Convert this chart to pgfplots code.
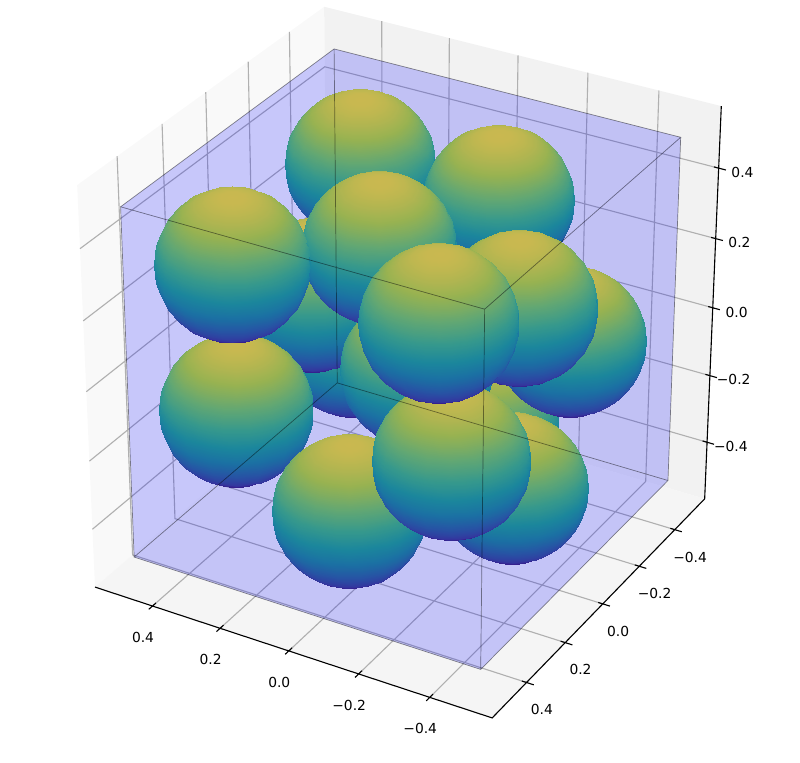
\documentclass[border=0pt]{standalone}
\usepackage{fontspec}
\setmainfont{DejaVu Sans}
\usepackage{pgfplots}
\usepackage{pgfplotstable}
\pgfplotsset{compat=1.18}

% unit sphere, 10 degree grid, latitude bands from the bottom up (painted in this order)
\pgfplotstableread[row sep=crcr]{
x y z\\
0 0 -1\\0 0 -1\\0 0 -1\\0 0 -1\\0 0 -1\\0 0 -1\\0 0 -1\\0 0 -1\\0 0 -1\\0 0 -1\\0 0 -1\\0 0 -1\\0 0 -1\\0 0 -1\\0 0 -1\\0 0 -1\\0 0 -1\\0 0 -1\\0 0 -1\\0 0 -1\\0 0 -1\\0 0 -1\\0 0 -1\\0 0 -1\\0 0 -1\\0 0 -1\\0 0 -1\\0 0 -1\\0 0 -1\\0 0 -1\\0 0 -1\\0 0 -1\\0 0 -1\\0 0 -1\\0 0 -1\\0 0 -1\\0 0 -1\\
.174 0 -.985\\.171 .03 -.985\\.163 .059 -.985\\.151 .087 -.985\\.133 .112 -.985\\.112 .133 -.985\\.087 .151 -.985\\.059 .163 -.985\\.03 .171 -.985\\0 .174 -.985\\-.03 .171 -.985\\-.059 .163 -.985\\-.087 .151 -.985\\-.112 .133 -.985\\-.133 .112 -.985\\-.151 .087 -.985\\-.163 .059 -.985\\-.171 .03 -.985\\-.174 0 -.985\\-.171 -.03 -.985\\-.163 -.059 -.985\\-.151 -.087 -.985\\-.133 -.112 -.985\\-.112 -.133 -.985\\-.087 -.151 -.985\\-.059 -.163 -.985\\-.03 -.171 -.985\\0 -.174 -.985\\.03 -.171 -.985\\.059 -.163 -.985\\.087 -.151 -.985\\.112 -.133 -.985\\.133 -.112 -.985\\.151 -.087 -.985\\.163 -.059 -.985\\.171 -.03 -.985\\.174 0 -.985\\
.342 0 -.94\\.337 .059 -.94\\.321 .117 -.94\\.296 .171 -.94\\.262 .22 -.94\\.22 .262 -.94\\.171 .296 -.94\\.117 .321 -.94\\.059 .337 -.94\\0 .342 -.94\\-.059 .337 -.94\\-.117 .321 -.94\\-.171 .296 -.94\\-.22 .262 -.94\\-.262 .22 -.94\\-.296 .171 -.94\\-.321 .117 -.94\\-.337 .059 -.94\\-.342 0 -.94\\-.337 -.059 -.94\\-.321 -.117 -.94\\-.296 -.171 -.94\\-.262 -.22 -.94\\-.22 -.262 -.94\\-.171 -.296 -.94\\-.117 -.321 -.94\\-.059 -.337 -.94\\0 -.342 -.94\\.059 -.337 -.94\\.117 -.321 -.94\\.171 -.296 -.94\\.22 -.262 -.94\\.262 -.22 -.94\\.296 -.171 -.94\\.321 -.117 -.94\\.337 -.059 -.94\\.342 0 -.94\\
.5 0 -.866\\.492 .087 -.866\\.47 .171 -.866\\.433 .25 -.866\\.383 .321 -.866\\.321 .383 -.866\\.25 .433 -.866\\.171 .47 -.866\\.087 .492 -.866\\0 .5 -.866\\-.087 .492 -.866\\-.171 .47 -.866\\-.25 .433 -.866\\-.321 .383 -.866\\-.383 .321 -.866\\-.433 .25 -.866\\-.47 .171 -.866\\-.492 .087 -.866\\-.5 0 -.866\\-.492 -.087 -.866\\-.47 -.171 -.866\\-.433 -.25 -.866\\-.383 -.321 -.866\\-.321 -.383 -.866\\-.25 -.433 -.866\\-.171 -.47 -.866\\-.087 -.492 -.866\\0 -.5 -.866\\.087 -.492 -.866\\.171 -.47 -.866\\.25 -.433 -.866\\.321 -.383 -.866\\.383 -.321 -.866\\.433 -.25 -.866\\.47 -.171 -.866\\.492 -.087 -.866\\.5 0 -.866\\
.643 0 -.766\\.633 .112 -.766\\.604 .22 -.766\\.557 .321 -.766\\.492 .413 -.766\\.413 .492 -.766\\.321 .557 -.766\\.22 .604 -.766\\.112 .633 -.766\\0 .643 -.766\\-.112 .633 -.766\\-.22 .604 -.766\\-.321 .557 -.766\\-.413 .492 -.766\\-.492 .413 -.766\\-.557 .321 -.766\\-.604 .22 -.766\\-.633 .112 -.766\\-.643 0 -.766\\-.633 -.112 -.766\\-.604 -.22 -.766\\-.557 -.321 -.766\\-.492 -.413 -.766\\-.413 -.492 -.766\\-.321 -.557 -.766\\-.22 -.604 -.766\\-.112 -.633 -.766\\0 -.643 -.766\\.112 -.633 -.766\\.22 -.604 -.766\\.321 -.557 -.766\\.413 -.492 -.766\\.492 -.413 -.766\\.557 -.321 -.766\\.604 -.22 -.766\\.633 -.112 -.766\\.643 0 -.766\\
.766 0 -.643\\.754 .133 -.643\\.72 .262 -.643\\.663 .383 -.643\\.587 .492 -.643\\.492 .587 -.643\\.383 .663 -.643\\.262 .72 -.643\\.133 .754 -.643\\0 .766 -.643\\-.133 .754 -.643\\-.262 .72 -.643\\-.383 .663 -.643\\-.492 .587 -.643\\-.587 .492 -.643\\-.663 .383 -.643\\-.72 .262 -.643\\-.754 .133 -.643\\-.766 0 -.643\\-.754 -.133 -.643\\-.72 -.262 -.643\\-.663 -.383 -.643\\-.587 -.492 -.643\\-.492 -.587 -.643\\-.383 -.663 -.643\\-.262 -.72 -.643\\-.133 -.754 -.643\\0 -.766 -.643\\.133 -.754 -.643\\.262 -.72 -.643\\.383 -.663 -.643\\.492 -.587 -.643\\.587 -.492 -.643\\.663 -.383 -.643\\.72 -.262 -.643\\.754 -.133 -.643\\.766 0 -.643\\
.866 0 -.5\\.853 .151 -.5\\.814 .296 -.5\\.75 .433 -.5\\.663 .557 -.5\\.557 .663 -.5\\.433 .75 -.5\\.296 .814 -.5\\.151 .853 -.5\\0 .866 -.5\\-.151 .853 -.5\\-.296 .814 -.5\\-.433 .75 -.5\\-.557 .663 -.5\\-.663 .557 -.5\\-.75 .433 -.5\\-.814 .296 -.5\\-.853 .151 -.5\\-.866 0 -.5\\-.853 -.151 -.5\\-.814 -.296 -.5\\-.75 -.433 -.5\\-.663 -.557 -.5\\-.557 -.663 -.5\\-.433 -.75 -.5\\-.296 -.814 -.5\\-.151 -.853 -.5\\0 -.866 -.5\\.151 -.853 -.5\\.296 -.814 -.5\\.433 -.75 -.5\\.557 -.663 -.5\\.663 -.557 -.5\\.75 -.433 -.5\\.814 -.296 -.5\\.853 -.151 -.5\\.866 0 -.5\\
.94 0 -.342\\.925 .163 -.342\\.883 .321 -.342\\.814 .47 -.342\\.72 .604 -.342\\.604 .72 -.342\\.47 .814 -.342\\.321 .883 -.342\\.163 .925 -.342\\0 .94 -.342\\-.163 .925 -.342\\-.321 .883 -.342\\-.47 .814 -.342\\-.604 .72 -.342\\-.72 .604 -.342\\-.814 .47 -.342\\-.883 .321 -.342\\-.925 .163 -.342\\-.94 0 -.342\\-.925 -.163 -.342\\-.883 -.321 -.342\\-.814 -.47 -.342\\-.72 -.604 -.342\\-.604 -.72 -.342\\-.47 -.814 -.342\\-.321 -.883 -.342\\-.163 -.925 -.342\\0 -.94 -.342\\.163 -.925 -.342\\.321 -.883 -.342\\.47 -.814 -.342\\.604 -.72 -.342\\.72 -.604 -.342\\.814 -.47 -.342\\.883 -.321 -.342\\.925 -.163 -.342\\.94 0 -.342\\
.985 0 -.174\\.97 .171 -.174\\.925 .337 -.174\\.853 .492 -.174\\.754 .633 -.174\\.633 .754 -.174\\.492 .853 -.174\\.337 .925 -.174\\.171 .97 -.174\\0 .985 -.174\\-.171 .97 -.174\\-.337 .925 -.174\\-.492 .853 -.174\\-.633 .754 -.174\\-.754 .633 -.174\\-.853 .492 -.174\\-.925 .337 -.174\\-.97 .171 -.174\\-.985 0 -.174\\-.97 -.171 -.174\\-.925 -.337 -.174\\-.853 -.492 -.174\\-.754 -.633 -.174\\-.633 -.754 -.174\\-.492 -.853 -.174\\-.337 -.925 -.174\\-.171 -.97 -.174\\0 -.985 -.174\\.171 -.97 -.174\\.337 -.925 -.174\\.492 -.853 -.174\\.633 -.754 -.174\\.754 -.633 -.174\\.853 -.492 -.174\\.925 -.337 -.174\\.97 -.171 -.174\\.985 0 -.174\\
1 0 0\\.985 .174 0\\.94 .342 0\\.866 .5 0\\.766 .643 0\\.643 .766 0\\.5 .866 0\\.342 .94 0\\.174 .985 0\\0 1 0\\-.174 .985 0\\-.342 .94 0\\-.5 .866 0\\-.643 .766 0\\-.766 .643 0\\-.866 .5 0\\-.94 .342 0\\-.985 .174 0\\-1 0 0\\-.985 -.174 0\\-.94 -.342 0\\-.866 -.5 0\\-.766 -.643 0\\-.643 -.766 0\\-.5 -.866 0\\-.342 -.94 0\\-.174 -.985 0\\0 -1 0\\.174 -.985 0\\.342 -.94 0\\.5 -.866 0\\.643 -.766 0\\.766 -.643 0\\.866 -.5 0\\.94 -.342 0\\.985 -.174 0\\1 0 0\\
.985 0 .174\\.97 .171 .174\\.925 .337 .174\\.853 .492 .174\\.754 .633 .174\\.633 .754 .174\\.492 .853 .174\\.337 .925 .174\\.171 .97 .174\\0 .985 .174\\-.171 .97 .174\\-.337 .925 .174\\-.492 .853 .174\\-.633 .754 .174\\-.754 .633 .174\\-.853 .492 .174\\-.925 .337 .174\\-.97 .171 .174\\-.985 0 .174\\-.97 -.171 .174\\-.925 -.337 .174\\-.853 -.492 .174\\-.754 -.633 .174\\-.633 -.754 .174\\-.492 -.853 .174\\-.337 -.925 .174\\-.171 -.97 .174\\0 -.985 .174\\.171 -.97 .174\\.337 -.925 .174\\.492 -.853 .174\\.633 -.754 .174\\.754 -.633 .174\\.853 -.492 .174\\.925 -.337 .174\\.97 -.171 .174\\.985 0 .174\\
.94 0 .342\\.925 .163 .342\\.883 .321 .342\\.814 .47 .342\\.72 .604 .342\\.604 .72 .342\\.47 .814 .342\\.321 .883 .342\\.163 .925 .342\\0 .94 .342\\-.163 .925 .342\\-.321 .883 .342\\-.47 .814 .342\\-.604 .72 .342\\-.72 .604 .342\\-.814 .47 .342\\-.883 .321 .342\\-.925 .163 .342\\-.94 0 .342\\-.925 -.163 .342\\-.883 -.321 .342\\-.814 -.47 .342\\-.72 -.604 .342\\-.604 -.72 .342\\-.47 -.814 .342\\-.321 -.883 .342\\-.163 -.925 .342\\0 -.94 .342\\.163 -.925 .342\\.321 -.883 .342\\.47 -.814 .342\\.604 -.72 .342\\.72 -.604 .342\\.814 -.47 .342\\.883 -.321 .342\\.925 -.163 .342\\.94 0 .342\\
.866 0 .5\\.853 .151 .5\\.814 .296 .5\\.75 .433 .5\\.663 .557 .5\\.557 .663 .5\\.433 .75 .5\\.296 .814 .5\\.151 .853 .5\\0 .866 .5\\-.151 .853 .5\\-.296 .814 .5\\-.433 .75 .5\\-.557 .663 .5\\-.663 .557 .5\\-.75 .433 .5\\-.814 .296 .5\\-.853 .151 .5\\-.866 0 .5\\-.853 -.151 .5\\-.814 -.296 .5\\-.75 -.433 .5\\-.663 -.557 .5\\-.557 -.663 .5\\-.433 -.75 .5\\-.296 -.814 .5\\-.151 -.853 .5\\0 -.866 .5\\.151 -.853 .5\\.296 -.814 .5\\.433 -.75 .5\\.557 -.663 .5\\.663 -.557 .5\\.75 -.433 .5\\.814 -.296 .5\\.853 -.151 .5\\.866 0 .5\\
.766 0 .643\\.754 .133 .643\\.72 .262 .643\\.663 .383 .643\\.587 .492 .643\\.492 .587 .643\\.383 .663 .643\\.262 .72 .643\\.133 .754 .643\\0 .766 .643\\-.133 .754 .643\\-.262 .72 .643\\-.383 .663 .643\\-.492 .587 .643\\-.587 .492 .643\\-.663 .383 .643\\-.72 .262 .643\\-.754 .133 .643\\-.766 0 .643\\-.754 -.133 .643\\-.72 -.262 .643\\-.663 -.383 .643\\-.587 -.492 .643\\-.492 -.587 .643\\-.383 -.663 .643\\-.262 -.72 .643\\-.133 -.754 .643\\0 -.766 .643\\.133 -.754 .643\\.262 -.72 .643\\.383 -.663 .643\\.492 -.587 .643\\.587 -.492 .643\\.663 -.383 .643\\.72 -.262 .643\\.754 -.133 .643\\.766 0 .643\\
.643 0 .766\\.633 .112 .766\\.604 .22 .766\\.557 .321 .766\\.492 .413 .766\\.413 .492 .766\\.321 .557 .766\\.22 .604 .766\\.112 .633 .766\\0 .643 .766\\-.112 .633 .766\\-.22 .604 .766\\-.321 .557 .766\\-.413 .492 .766\\-.492 .413 .766\\-.557 .321 .766\\-.604 .22 .766\\-.633 .112 .766\\-.643 0 .766\\-.633 -.112 .766\\-.604 -.22 .766\\-.557 -.321 .766\\-.492 -.413 .766\\-.413 -.492 .766\\-.321 -.557 .766\\-.22 -.604 .766\\-.112 -.633 .766\\0 -.643 .766\\.112 -.633 .766\\.22 -.604 .766\\.321 -.557 .766\\.413 -.492 .766\\.492 -.413 .766\\.557 -.321 .766\\.604 -.22 .766\\.633 -.112 .766\\.643 0 .766\\
.5 0 .866\\.492 .087 .866\\.47 .171 .866\\.433 .25 .866\\.383 .321 .866\\.321 .383 .866\\.25 .433 .866\\.171 .47 .866\\.087 .492 .866\\0 .5 .866\\-.087 .492 .866\\-.171 .47 .866\\-.25 .433 .866\\-.321 .383 .866\\-.383 .321 .866\\-.433 .25 .866\\-.47 .171 .866\\-.492 .087 .866\\-.5 0 .866\\-.492 -.087 .866\\-.47 -.171 .866\\-.433 -.25 .866\\-.383 -.321 .866\\-.321 -.383 .866\\-.25 -.433 .866\\-.171 -.47 .866\\-.087 -.492 .866\\0 -.5 .866\\.087 -.492 .866\\.171 -.47 .866\\.25 -.433 .866\\.321 -.383 .866\\.383 -.321 .866\\.433 -.25 .866\\.47 -.171 .866\\.492 -.087 .866\\.5 0 .866\\
.342 0 .94\\.337 .059 .94\\.321 .117 .94\\.296 .171 .94\\.262 .22 .94\\.22 .262 .94\\.171 .296 .94\\.117 .321 .94\\.059 .337 .94\\0 .342 .94\\-.059 .337 .94\\-.117 .321 .94\\-.171 .296 .94\\-.22 .262 .94\\-.262 .22 .94\\-.296 .171 .94\\-.321 .117 .94\\-.337 .059 .94\\-.342 0 .94\\-.337 -.059 .94\\-.321 -.117 .94\\-.296 -.171 .94\\-.262 -.22 .94\\-.22 -.262 .94\\-.171 -.296 .94\\-.117 -.321 .94\\-.059 -.337 .94\\0 -.342 .94\\.059 -.337 .94\\.117 -.321 .94\\.171 -.296 .94\\.22 -.262 .94\\.262 -.22 .94\\.296 -.171 .94\\.321 -.117 .94\\.337 -.059 .94\\.342 0 .94\\
.174 0 .985\\.171 .03 .985\\.163 .059 .985\\.151 .087 .985\\.133 .112 .985\\.112 .133 .985\\.087 .151 .985\\.059 .163 .985\\.03 .171 .985\\0 .174 .985\\-.03 .171 .985\\-.059 .163 .985\\-.087 .151 .985\\-.112 .133 .985\\-.133 .112 .985\\-.151 .087 .985\\-.163 .059 .985\\-.171 .03 .985\\-.174 0 .985\\-.171 -.03 .985\\-.163 -.059 .985\\-.151 -.087 .985\\-.133 -.112 .985\\-.112 -.133 .985\\-.087 -.151 .985\\-.059 -.163 .985\\-.03 -.171 .985\\0 -.174 .985\\.03 -.171 .985\\.059 -.163 .985\\.087 -.151 .985\\.112 -.133 .985\\.133 -.112 .985\\.151 -.087 .985\\.163 -.059 .985\\.171 -.03 .985\\.174 0 .985\\
0 0 1\\0 0 1\\0 0 1\\0 0 1\\0 0 1\\0 0 1\\0 0 1\\0 0 1\\0 0 1\\0 0 1\\0 0 1\\0 0 1\\0 0 1\\0 0 1\\0 0 1\\0 0 1\\0 0 1\\0 0 1\\0 0 1\\0 0 1\\0 0 1\\0 0 1\\0 0 1\\0 0 1\\0 0 1\\0 0 1\\0 0 1\\0 0 1\\0 0 1\\0 0 1\\0 0 1\\0 0 1\\0 0 1\\0 0 1\\0 0 1\\0 0 1\\0 0 1\\
}\unitball

% camera: azim 120, elev 30, limits +-0.5729; result in pixels of the picture
\pgfplotsset{
  table/proj/.style={
    x expr={sxp(\thisrow{x},\thisrow{y},\thisrow{z})},
    y expr={syp(\thisrow{x},\thisrow{y},\thisrow{z})}},
  ticklabels/.style n args={2}{draw=none,mark=none,nodes near coords,point meta=explicit symbolic,
    every node near coord/.append style={anchor=center,font=\fontsize{10}{12}\selectfont,
      xshift=#1*0.7227pt,yshift=#2*0.7227pt}},
  colormap={vir}{rgb255=(69,8,90) rgb255=(65,68,135) rgb255=(49,104,142) rgb255=(34,140,141)
    rgb255=(34,168,132) rgb255=(68,191,112) rgb255=(122,209,81) rgb255=(189,223,38) rgb255=(253,231,37)},
}
% one sphere: centre on the picture (pixels) and radius (pixels)
\newcommand{\ball}[3]{%
  \addplot[surf,shader=interp,point meta=\thisrow{z},mesh/cols=37] table[
    x expr={#1-#3*(.866*\thisrow{x}+.5*\thisrow{y})},
    y expr={#2-#3*(.25*\thisrow{x}-.433*\thisrow{y}+.866*\thisrow{z})}] {\unitball};
}
\definecolor{panex}{gray}{0.975}
\definecolor{paney}{gray}{0.95}
\definecolor{panez}{gray}{0.9625}
\definecolor{gridc}{gray}{0.69}

\begin{document}
\begin{tikzpicture}[
  declare function={
    sxp(\a,\b,\c)=405+7282*(-0.866*\a-0.5*\b)/(18.2-1.7455*(-0.433*\a+0.75*\b+0.5*\c));
    syp(\a,\b,\c)=349-7282*(0.25*\a-0.433*\b+0.866*\c)/(18.2-1.7455*(-0.433*\a+0.75*\b+0.5*\c));
  }]
\begin{axis}[
  scale only axis,width=8in,height=7.62in,
  xmin=0,xmax=800,ymin=0,ymax=762,y dir=reverse,
  hide axis,clip=false,unbounded coords=jump,
  colormap name=vir,point meta min=-1,point meta max=1,
]
\path (rel axis cs:0,0) rectangle (rel axis cs:1,1);
% panes
\addplot[fill=panex,draw=none] table[proj] {
x y z
0.5729 0.5729 -0.5729
0.5729 -0.5729 -0.5729
0.5729 -0.5729 0.5729
0.5729 0.5729 0.5729
} --cycle;
\addplot[fill=paney,draw=none] table[proj] {
x y z
0.5729 -0.5729 -0.5729
-0.5729 -0.5729 -0.5729
-0.5729 -0.5729 0.5729
0.5729 -0.5729 0.5729
} --cycle;
\addplot[fill=panez,draw=none] table[proj] {
x y z
0.5729 0.5729 -0.5729
-0.5729 0.5729 -0.5729
-0.5729 -0.5729 -0.5729
0.5729 -0.5729 -0.5729
} --cycle;
% grid
\addplot[gridc,line width=0.8bp] table[proj] {
x y z
0.4 0.5729 -0.5729
0.4 -0.5729 -0.5729
0.4 -0.5729 0.5729
nan nan nan
0.2 0.5729 -0.5729
0.2 -0.5729 -0.5729
0.2 -0.5729 0.5729
nan nan nan
0 0.5729 -0.5729
0 -0.5729 -0.5729
0 -0.5729 0.5729
nan nan nan
-0.2 0.5729 -0.5729
-0.2 -0.5729 -0.5729
-0.2 -0.5729 0.5729
nan nan nan
-0.4 0.5729 -0.5729
-0.4 -0.5729 -0.5729
-0.4 -0.5729 0.5729
nan nan nan
-0.5729 0.4 -0.5729
0.5729 0.4 -0.5729
0.5729 0.4 0.5729
nan nan nan
-0.5729 0.2 -0.5729
0.5729 0.2 -0.5729
0.5729 0.2 0.5729
nan nan nan
-0.5729 0 -0.5729
0.5729 0 -0.5729
0.5729 0 0.5729
nan nan nan
-0.5729 -0.2 -0.5729
0.5729 -0.2 -0.5729
0.5729 -0.2 0.5729
nan nan nan
-0.5729 -0.4 -0.5729
0.5729 -0.4 -0.5729
0.5729 -0.4 0.5729
nan nan nan
-0.5729 -0.5729 0.4
0.5729 -0.5729 0.4
0.5729 0.5729 0.4
nan nan nan
-0.5729 -0.5729 0.2
0.5729 -0.5729 0.2
0.5729 0.5729 0.2
nan nan nan
-0.5729 -0.5729 0
0.5729 -0.5729 0
0.5729 0.5729 0
nan nan nan
-0.5729 -0.5729 -0.2
0.5729 -0.5729 -0.2
0.5729 0.5729 -0.2
nan nan nan
-0.5729 -0.5729 -0.4
0.5729 -0.5729 -0.4
0.5729 0.5729 -0.4
};
% axis lines and tick marks
\addplot[black,line width=0.8bp] table[proj] {
x y z
0.5729 0.5729 -0.5729
-0.5729 0.5729 -0.5729
-0.5729 -0.5729 -0.5729
-0.5729 -0.5729 0.5729
nan nan nan
0.4 0.557 -0.5729
0.4 0.59 -0.5729
nan nan nan
0.2 0.557 -0.5729
0.2 0.59 -0.5729
nan nan nan
0 0.557 -0.5729
0 0.59 -0.5729
nan nan nan
-0.2 0.557 -0.5729
-0.2 0.59 -0.5729
nan nan nan
-0.4 0.557 -0.5729
-0.4 0.59 -0.5729
nan nan nan
-0.56 0.4 -0.5729
-0.593 0.4 -0.5729
nan nan nan
-0.56 0.2 -0.5729
-0.593 0.2 -0.5729
nan nan nan
-0.56 0 -0.5729
-0.593 0 -0.5729
nan nan nan
-0.56 -0.2 -0.5729
-0.593 -0.2 -0.5729
nan nan nan
-0.56 -0.4 -0.5729
-0.593 -0.4 -0.5729
nan nan nan
-0.56 -0.5729 0.4
-0.593 -0.5729 0.4
nan nan nan
-0.56 -0.5729 0.2
-0.593 -0.5729 0.2
nan nan nan
-0.56 -0.5729 0
-0.593 -0.5729 0
nan nan nan
-0.56 -0.5729 -0.2
-0.593 -0.5729 -0.2
nan nan nan
-0.56 -0.5729 -0.4
-0.593 -0.5729 -0.4
};
% tick labels
\addplot[ticklabels={-9.5}{-31.5}] table[proj,meta=lab] {
x y z lab
0.4 0.5729 -0.5729 0.4
0.2 0.5729 -0.5729 0.2
0 0.5729 -0.5729 0.0
-0.2 0.5729 -0.5729 −0.2
-0.4 0.5729 -0.5729 −0.4
};
\addplot[ticklabels={15.3}{-27.3}] table[proj,meta=lab] {
x y z lab
-0.5729 0.4 -0.5729 0.4
-0.5729 0.2 -0.5729 0.2
-0.5729 0 -0.5729 0.0
-0.5729 -0.2 -0.5729 −0.2
-0.5729 -0.4 -0.5729 −0.4
};
\addplot[ticklabels={23.8}{-4.3}] table[proj,meta=lab] {
x y z lab
-0.5729 -0.5729 0.4 0.4
-0.5729 -0.5729 0.2 0.2
-0.5729 -0.5729 0 0.0
-0.5729 -0.5729 -0.2 −0.2
-0.5729 -0.5729 -0.4 −0.4
};
% spheres, back to front
\ball{352}{342}{75}
\ball{483}{420}{75.5}
\ball{312}{295}{77}
\ball{360}{164}{75.5}
\ball{416}{370}{76.5}
\ball{498.5}{200}{75.5}
\ball{570}{341}{76}
\ball{379}{248}{77.5}
\ball{236}{410}{77}
\ball{512}{488}{76}
\ball{519}{308}{78.5}
\ball{349}{511}{77.5}
\ball{232}{264.5}{78.3}
\ball{451}{461}{79.5}
\ball{438.5}{323}{80.3}
% blue box
\addplot[fill=blue,fill opacity=0.2,draw=none] table[proj] {
x y z
-0.5 -0.5 -0.5
-0.5 0.5 -0.5
-0.5 0.5 0.5
-0.5 -0.5 0.5
} --cycle;
\addplot[fill=blue,fill opacity=0.2,draw=none] table[proj] {
x y z
-0.5 0.5 -0.5
0.5 0.5 -0.5
0.5 0.5 0.5
-0.5 0.5 0.5
} --cycle;
\addplot[fill=blue,fill opacity=0.2,draw=none] table[proj] {
x y z
0.5 0.5 0.5
-0.5 0.5 0.5
-0.5 -0.5 0.5
0.5 -0.5 0.5
} --cycle;
\addplot[black,line width=0.5bp,opacity=0.45] table[proj] {
x y z
0.5 0.5 -0.5
-0.5 0.5 -0.5
-0.5 -0.5 -0.5
0.5 -0.5 -0.5
0.5 0.5 -0.5
0.5 0.5 0.5
-0.5 0.5 0.5
-0.5 -0.5 0.5
0.5 -0.5 0.5
0.5 0.5 0.5
nan nan nan
-0.5 0.5 -0.5
-0.5 0.5 0.5
nan nan nan
-0.5 -0.5 -0.5
-0.5 -0.5 0.5
nan nan nan
0.5 -0.5 -0.5
0.5 -0.5 0.5
};
\end{axis}
\end{tikzpicture}
\end{document}
